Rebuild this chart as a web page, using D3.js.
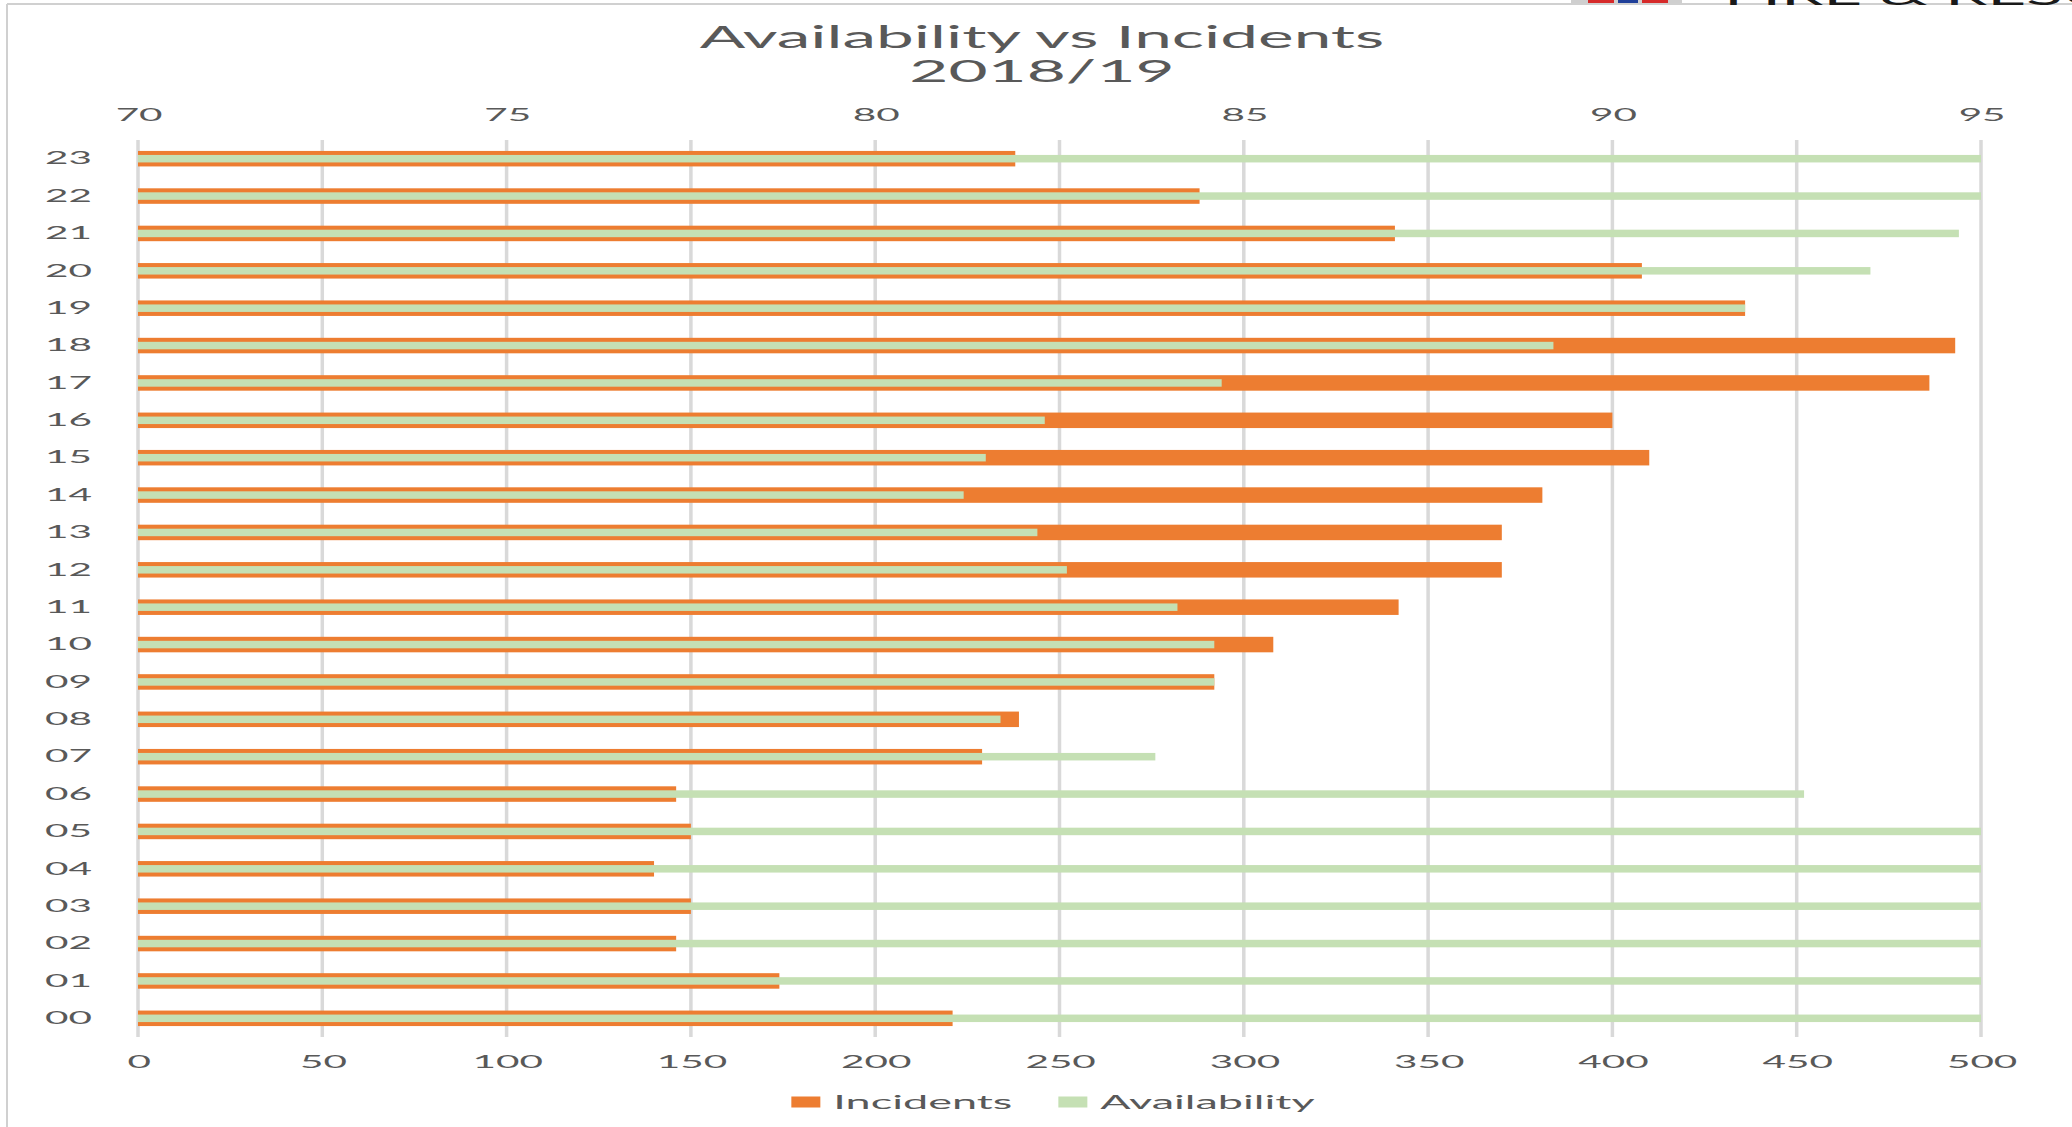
<!DOCTYPE html>
<html>
<head>
<meta charset="utf-8">
<script src="https://cdn.jsdelivr.net/npm/d3@7/dist/d3.min.js"></script>
<style>
body{margin:0;background:#fff;overflow:hidden}
text{font-family:Lato,"Open Sans",sans-serif;fill:#595959}
</style>
</head>
<body>
<svg id="chart"></svg>
<script>
// hour of day, bottom to top of the chart
var hours = ["00","01","02","03","04","05","06","07","08","09","10","11",
             "12","13","14","15","16","17","18","19","20","21","22","23"];
// incidents per hour (bottom axis)
var incidents = [221,174,146,150,140,150,146,229,239,292,308,342,
                 370,370,381,410,400,486,493,436,408,341,288,238];
// availability % per hour (top axis, 70-95)
var availability = [95,95,95,95,95,95,92.6,83.8,81.7,84.6,84.6,84.1,
                    82.6,82.2,81.2,81.5,82.3,84.7,89.2,91.8,93.5,94.7,95,95];
var incidentTicks = [0,50,100,150,200,250,300,350,400,450,500];
var availabilityTicks = [70,75,80,85,90,95];
var seriesNames = ["Incidents","Availability"];
var seriesColours = ["#ED7D31","#C5E0B4"];
var titleLines = ["Availability vs Incidents","2018/19"];

var width=2072;
var height=1127;
// the original picture is stretched sideways, so everything is drawn narrow and scaled
var stretch=2.25;

var svg=d3.select("#chart")
  .attr("width",width)
  .attr("height",height);

// frame of the pasted chart
svg.append("line").attr("x1",7).attr("x2",width).attr("y1",4).attr("y2",4)
  .attr("stroke","#D0D0D0").attr("stroke-width",2);
svg.append("line").attr("x1",7).attr("x2",7).attr("y1",4).attr("y2",height)
  .attr("stroke","#D0D0D0").attr("stroke-width",2);

var g=svg.append("g").attr("transform","scale("+stretch+",1)");

// bits of the page header that peek in at the top
var logo=g.append("g");
logo.append("rect").attr("x",1571/stretch).attr("y",-6).attr("width",111/stretch).attr("height",9)
  .attr("fill","#cfcfcf");
logo.append("rect").attr("x",1588/stretch).attr("y",-6).attr("width",26/stretch).attr("height",9)
  .attr("fill","#d62a2a");
logo.append("rect").attr("x",1618/stretch).attr("y",-6).attr("width",20/stretch).attr("height",9)
  .attr("fill","#1f3f99");
logo.append("rect").attr("x",1642/stretch).attr("y",-6).attr("width",26/stretch).attr("height",9)
  .attr("fill","#d62a2a");
g.append("text")
  .attr("x",1724/stretch)
  .attr("y",5)
  .style("font-size","30px")
  .style("fill","#1a1a1a")
  .text("FIRE & RESCUE SERVICE");

var plotLeft=138/stretch, plotRight=1981/stretch, plotTop=140, plotBottom=1037;

var x=d3.scaleLinear().domain([0,500]).range([plotLeft,plotRight]);
var x2=d3.scaleLinear().domain([70,95]).range([plotLeft,plotRight]).clamp(true);
var y=d3.scaleBand().domain(hours.slice().reverse()).range([plotTop,plotBottom]);

// gridlines
g.selectAll("line.grid")
  .data(incidentTicks)
  .enter()
  .append("line")
  .attr("class","grid")
  .attr("x1",function(d){return x(d);})
  .attr("x2",function(d){return x(d);})
  .attr("y1",plotTop)
  .attr("y2",plotBottom)
  .attr("stroke","#D9D9D9")
  .attr("stroke-width",3.5/stretch);

var orangeH=15.5, greenH=7.5;

g.selectAll("rect.incidents")
  .data(hours)
  .enter()
  .append("rect")
  .attr("class","incidents")
  .attr("x",x(0))
  .attr("y",function(d){return y(d)+y.bandwidth()/2-orangeH/2;})
  .attr("width",function(d,i){return x(incidents[i])-x(0);})
  .attr("height",orangeH)
  .attr("fill",seriesColours[0]);

g.selectAll("rect.availability")
  .data(hours)
  .enter()
  .append("rect")
  .attr("class","availability")
  .attr("x",x2(70))
  .attr("y",function(d){return y(d)+y.bandwidth()/2-greenH/2;})
  .attr("width",function(d,i){return x2(availability[i])-x2(70);})
  .attr("height",greenH)
  .attr("fill",seriesColours[1]);

// axes
var bottomAxis=g.append("g")
  .attr("transform","translate(0,"+plotBottom+")")
  .call(d3.axisBottom(x).tickValues(incidentTicks).tickSize(0));
bottomAxis.selectAll("text").attr("y",25).attr("dy","0.35em");

var topAxis=g.append("g")
  .attr("transform","translate(0,"+plotTop+")")
  .call(d3.axisTop(x2).tickValues(availabilityTicks).tickSize(0));
topAxis.selectAll("text").attr("y",-25).attr("dy","0.35em");

var leftAxis=g.append("g")
  .attr("transform","translate("+plotLeft+",0)")
  .call(d3.axisLeft(y).tickSize(0).tickPadding(46/stretch));

g.selectAll(".domain").remove();
g.selectAll(".tick text")
  .style("font-size","18px")
  .style("font-family","Lato, 'Open Sans', sans-serif")
  .attr("fill","#595959");

// title
g.selectAll("text.title")
  .data(titleLines)
  .enter()
  .append("text")
  .attr("class","title")
  .attr("x",1042/stretch)
  .attr("y",function(d,i){return 38+i*34;})
  .attr("dy","0.35em")
  .attr("text-anchor","middle")
  .style("font-size","30px")
  .text(function(d){return d;});

// legend
var legend=g.append("g");
var item=legend.selectAll("g")
  .data(seriesNames)
  .enter()
  .append("g");
item.append("rect")
  .attr("x",0)
  .attr("y",-5.5)
  .attr("width",29/stretch)
  .attr("height",11)
  .attr("fill",function(d,i){return seriesColours[i];});
item.append("text")
  .attr("x",42/stretch)
  .attr("y",0)
  .attr("dy","0.35em")
  .style("font-size","20px")
  .text(function(d){return d;});
var pos=0;
item.each(function(){
  d3.select(this).attr("transform","translate("+pos+",1102)");
  pos+=this.getBBox().width+46/stretch;
});
var legendWidth=pos-46/stretch;
legend.attr("transform","translate("+(1053/stretch-legendWidth/2)+",0)");
</script>
</body>
</html>
